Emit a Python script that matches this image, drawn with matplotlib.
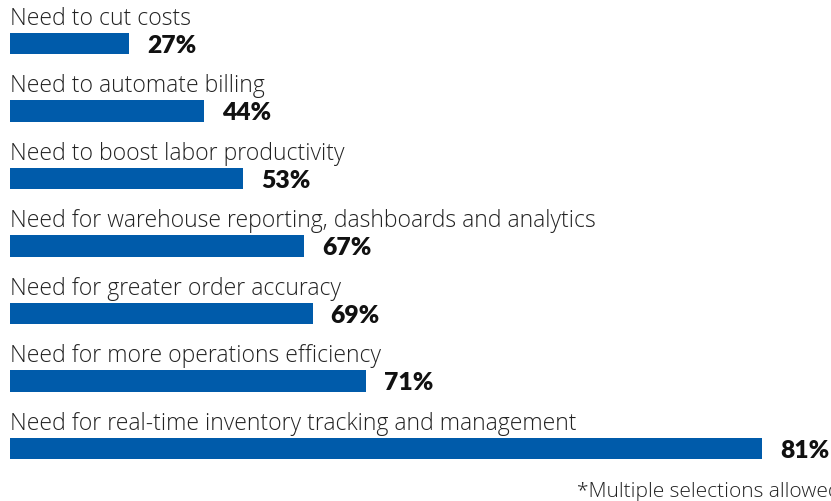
import matplotlib
matplotlib.use("Agg")
import matplotlib.pyplot as plt

categories = [
    "Need to cut costs",
    "Need to automate billing",
    "Need to boost labor productivity",
    "Need for warehouse reporting, dashboards and analytics",
    "Need for greater order accuracy",
    "Need for more operations efficiency",
    "Need for real-time inventory tracking and management",
]
values = [27, 44, 53, 67, 69, 71, 81]
# displayed bar lengths (bars are not drawn to scale)
bar_lengths = [12.8, 20.9, 25.1, 31.7, 32.6, 38.3, 81.0]
footnote = "*Multiple selections allowed"

W, H, DPI = 831, 501, 100
fig = plt.figure(figsize=(W / DPI, H / DPI), dpi=DPI)
ax = fig.add_axes([0, 0, 1, 1])

u = 81.0 / 752.0           # data units per pixel horizontally
step = 67.5                # pixels per category
ax.set_xlim(-10 * u, (W - 10) * u)
ax.set_ylim((H - 43.5) / step, -43.5 / step)
ax.axis("off")

bar_h = 21.5 / step
blue = "#005BAA"
ys = list(range(len(categories)))
ax.barh(ys, bar_lengths, height=bar_h, color=blue, align="center")

for y, cat, v, L in zip(ys, categories, values, bar_lengths):
    ax.text(0, y - bar_h / 2 - 8 / step, cat, ha="left", va="baseline",
            fontsize=16.55, family="Open Sans", weight="light", color="#222222")
    ax.text(L + 18 * u, y + bar_h / 2 - 1.5 / step, f"{v}%", ha="left",
            va="baseline", fontsize=17.7, family="Lato", weight="heavy",
            color="#111111")

fig.text(577 / W, 1 - 497 / H, footnote, ha="left", va="baseline",
         fontsize=15, family="Open Sans", weight="light", color="#222222")

fig.savefig("out.png", dpi=DPI)
